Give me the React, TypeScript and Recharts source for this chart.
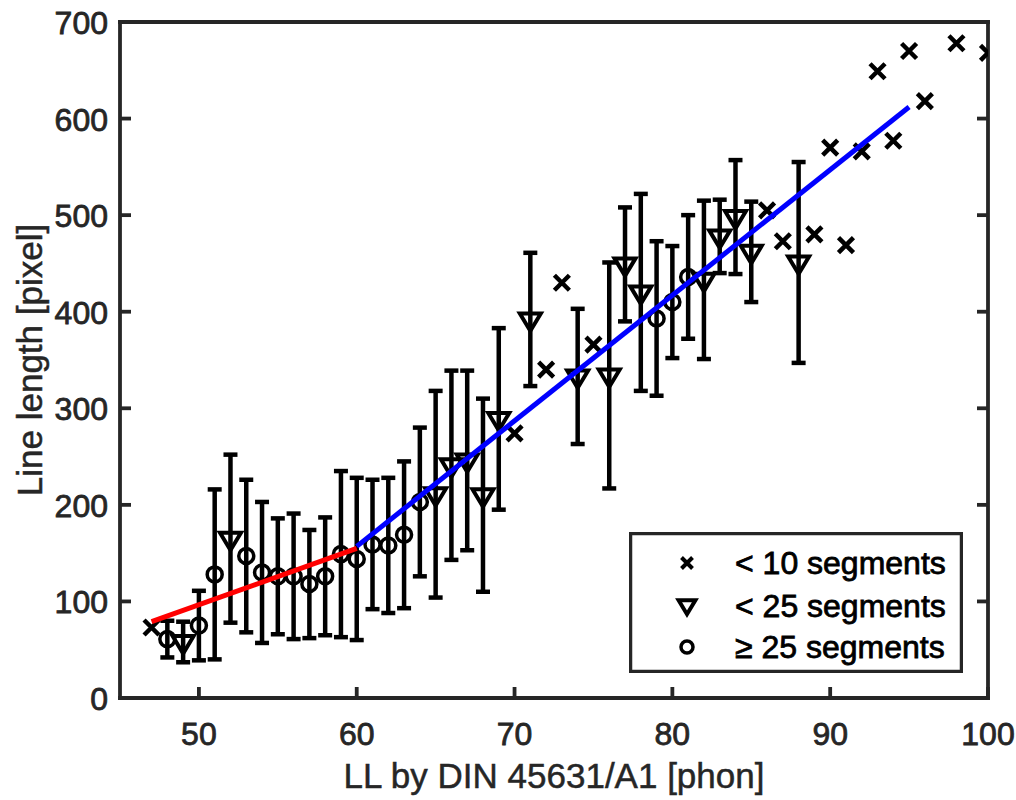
import React from 'react';
import { ComposedChart, Scatter, XAxis, YAxis, ErrorBar, Legend } from 'recharts';

// ---------- data ----------
const xTicks = [50, 60, 70, 80, 90, 100];
const yTicks = [0, 100, 200, 300, 400, 500, 600, 700];

// "< 10 segments" (crosses)
const fewX = [47, 70, 72, 73, 75, 86, 87, 89, 90, 91, 92, 93, 94, 95, 96, 98, 100];
const fewY = [73, 274, 340, 430, 366, 505, 473, 480, 570, 469, 566, 649, 577, 670, 618, 678, 668];

// "< 25 segments" (triangles)
const midX = [49, 52, 65, 66, 67, 68, 69, 71, 74, 76, 77, 78, 82, 83, 84, 85, 88];
const midY = [58, 165, 211, 241, 246, 210, 289, 392, 333, 334, 449, 420, 433, 478, 498, 462, 451];
const midE = [21, 87, 107, 98, 93, 100, 94, 69, 70, 117, 59, 102, 82, 38, 59, 52, 104];

// ">= 25 segments" (circles)
const manyX = [48, 50, 51, 53, 54, 55, 56, 57, 58, 59, 60, 61, 62, 63, 64, 79, 80, 81];
const manyY = [61, 75, 128, 147, 130, 126, 126, 118, 126, 149, 144, 159, 158, 169, 203, 393, 410, 436];
const manyE = [19, 36, 88, 79, 73, 60, 65, 56, 61, 86, 84, 67, 70, 76, 77, 80, 58, 64];

// linear fits
const redFitX = [47, 60];
const redFitY = [79, 155];
const blueFitX = [60, 95];
const blueFitY = [157, 612];

const fewData = fewX.map((x, i) => ({ x, y: fewY[i] }));
const midData = midX.map((x, i) => ({ x, y: midY[i], e: midE[i] }));
const manyData = manyX.map((x, i) => ({ x, y: manyY[i], e: manyE[i] }));
const redData = redFitX.map((x, i) => ({ x, y: redFitY[i] }));
const blueData = blueFitX.map((x, i) => ({ x, y: blueFitY[i] }));

// ---------- style ----------
const AX = '#262626';
const FONT = '"Liberation Sans", Arial, Helvetica, sans-serif';
const TICK_LEN = 11;
const TICK_FS = 32;
const LABEL_FS = 35;
const AXW = 3.8;
const TXT_STROKE = 0.8;

const BottomTick = (p: any) => (
  <g>
    <line x1={p.x} y1={p.y} x2={p.x} y2={p.y - TICK_LEN} stroke={AX} strokeWidth={AXW} />
    <text x={p.x} y={p.y + 47} textAnchor="middle" fontSize={TICK_FS} fill={AX} stroke={AX}
      strokeWidth={TXT_STROKE} fontFamily={FONT}>
      {p.payload.value}
    </text>
  </g>
);
const TopTick = (p: any) => (
  <line x1={p.x} y1={p.y} x2={p.x} y2={p.y + TICK_LEN} stroke={AX} strokeWidth={AXW} />
);
const LeftTick = (p: any) => (
  <g>
    <line x1={p.x} y1={p.y} x2={p.x + TICK_LEN} y2={p.y} stroke={AX} strokeWidth={AXW} />
    <text x={p.x - 12} y={p.y + 12} textAnchor="end" fontSize={TICK_FS} fill={AX} stroke={AX}
      strokeWidth={TXT_STROKE} fontFamily={FONT}>
      {p.payload.value}
    </text>
  </g>
);
const RightTick = (p: any) => (
  <line x1={p.x} y1={p.y} x2={p.x - TICK_LEN} y2={p.y} stroke={AX} strokeWidth={AXW} />
);

const XTitle = (p: any) => {
  const vb = p.viewBox || { x: 120, y: 698, width: 868, height: 102 };
  return (
    <text x={vb.x + vb.width / 2} y={vb.y + 77} textAnchor="middle" dominantBaseline="central"
      fontSize={LABEL_FS} fill={AX} stroke={AX} strokeWidth={TXT_STROKE * 0.6} fontFamily={FONT}>
      LL by DIN 45631/A1 [phon]
    </text>
  );
};
const YTitle = (p: any) => {
  const vb = p.viewBox || { x: 0, y: 22, width: 120, height: 676 };
  const cx = vb.x + 29;
  const cy = vb.y + vb.height / 2;
  return (
    <text x={cx} y={cy} transform={`rotate(-90, ${cx}, ${cy})`} textAnchor="middle"
      dominantBaseline="central" fontSize={LABEL_FS} fill={AX} stroke={AX}
      strokeWidth={TXT_STROKE * 0.6} fontFamily={FONT}>
      Line length [pixel]
    </text>
  );
};

// ---------- markers ----------
const crossPath = (cx: number, cy: number, s: number) =>
  `M${cx - s},${cy - s}L${cx + s},${cy + s}M${cx - s},${cy + s}L${cx + s},${cy - s}`;
const triPath = (cx: number, cy: number, k: number) =>
  `M${cx - 10.5 * k},${cy - 6 * k}L${cx + 10.5 * k},${cy - 6 * k}L${cx},${cy + 11.5 * k}Z`;

const crossShape = (p: any) => <path d={crossPath(p.cx, p.cy, 7.5)} stroke="#000" strokeWidth={4.5} fill="none" />;
const triShape = (p: any) => <path d={triPath(p.cx, p.cy, 1)} stroke="#000" strokeWidth={4} fill="none" />;
const circShape = (p: any) => <circle cx={p.cx} cy={p.cy} r={7.5} stroke="#000" strokeWidth={3.5} fill="none" />;
const noShape = () => <g />;

const LegendBox = () => (
  <svg width={334} height={141} style={{ display: 'block' }}>
    <rect x={1.5} y={1.5} width={331} height={138} fill="#fff" stroke={AX} strokeWidth={3.5} />
    <path d={crossPath(58, 31, 5.5)} stroke="#000" strokeWidth={4} fill="none" />
    <path d={triPath(58, 73, 0.8)} stroke="#000" strokeWidth={4} fill="none" />
    <circle cx={58} cy={115} r={6} stroke="#000" strokeWidth={3.5} fill="none" />
    <g fontSize={TICK_FS} fontFamily={FONT} fill="#000" stroke="#000" strokeWidth={TXT_STROKE}>
      <text x={106} y={31} dominantBaseline="central">&lt; 10 segments</text>
      <text x={106} y={74} dominantBaseline="central">&lt; 25 segments</text>
      <text x={106} y={115} dominantBaseline="central">≥ 25 segments</text>
    </g>
  </svg>
);

export default function App() {
  return (
    <div style={{ position: 'absolute', left: 0, top: 0, width: 1016, height: 800, background: '#fff' }}>
      <ComposedChart width={1016} height={800} margin={{ top: 0, right: 0, bottom: 0, left: 0 }}>
        <XAxis xAxisId="b" type="number" dataKey="x" domain={[45, 100]} ticks={xTicks} height={102}
          orientation="bottom" allowDataOverflow tickLine={false} tickSize={0} tickMargin={0}
          tick={<BottomTick />} axisLine={{ stroke: AX, strokeWidth: AXW, strokeLinecap: 'square' }}
          label={<XTitle />} />
        <XAxis xAxisId="t" type="number" domain={[45, 100]} ticks={xTicks} height={22}
          orientation="top" allowDataOverflow tickLine={false} tickSize={0} tickMargin={0}
          tick={<TopTick />} axisLine={{ stroke: AX, strokeWidth: AXW, strokeLinecap: 'square' }} />
        <YAxis yAxisId="l" type="number" dataKey="y" domain={[0, 700]} ticks={yTicks} width={120}
          orientation="left" allowDataOverflow tickLine={false} tickSize={0} tickMargin={0}
          tick={<LeftTick />} axisLine={{ stroke: AX, strokeWidth: AXW, strokeLinecap: 'square' }}
          label={<YTitle />} />
        <YAxis yAxisId="r" type="number" domain={[0, 700]} ticks={yTicks} width={28}
          orientation="right" allowDataOverflow tickLine={false} tickSize={0} tickMargin={0}
          tick={<RightTick />} axisLine={{ stroke: AX, strokeWidth: AXW, strokeLinecap: 'square' }} />

        <Scatter name="< 25 segments" data={midData} xAxisId="b" yAxisId="l" shape={triShape} isAnimationActive={false}>
          <ErrorBar dataKey="e" direction="y" width={7} stroke="#000" strokeWidth={4.5} isAnimationActive={false} />
        </Scatter>
        <Scatter name="≥ 25 segments" data={manyData} xAxisId="b" yAxisId="l" shape={circShape} isAnimationActive={false}>
          <ErrorBar dataKey="e" direction="y" width={7} stroke="#000" strokeWidth={4.5} isAnimationActive={false} />
        </Scatter>
        <Scatter name="< 10 segments" data={fewData} xAxisId="b" yAxisId="l" shape={crossShape} isAnimationActive={false} />

        <Scatter name="fit1" data={redData} xAxisId="b" yAxisId="l" shape={noShape} legendType="none"
          line={{ stroke: '#ff0000', strokeWidth: 5 }} isAnimationActive={false} />
        <Scatter name="fit2" data={blueData} xAxisId="b" yAxisId="l" shape={noShape} legendType="none"
          line={{ stroke: '#0000ff', strokeWidth: 5 }} isAnimationActive={false} />

        <Legend layout="horizontal" verticalAlign="middle" align="center" content={<LegendBox />}
          wrapperStyle={{ position: 'absolute', left: 629, top: 532, width: 334, height: 141 }} />
      </ComposedChart>
    </div>
  );
}
